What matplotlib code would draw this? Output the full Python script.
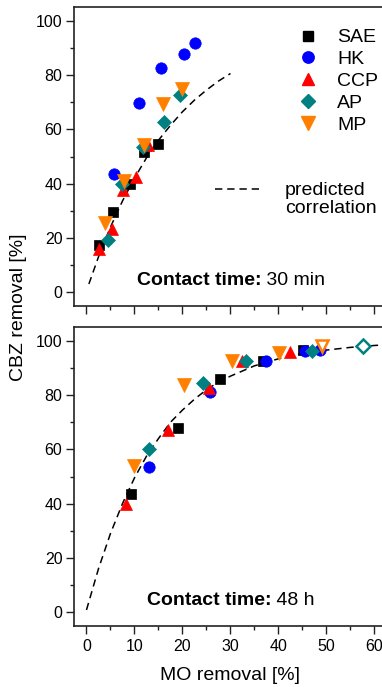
import matplotlib
matplotlib.use("Agg")
import matplotlib.pyplot as plt
from matplotlib.lines import Line2D
from matplotlib.ticker import MultipleLocator

plt.rcParams['font.family'] = ['Liberation Sans', 'DejaVu Sans']

# ---- data: MO removal [%] (x) vs CBZ removal [%] (y) ----
series = ["SAE", "HK", "CCP", "AP", "MP"]

# contact time 30 min
sae_30_x = [2.6, 5.6, 9.0, 12.0, 15.0]
sae_30_y = [17.2, 29.5, 39.9, 51.8, 54.5]
hk_30_x = [5.75, 11.0, 15.5, 20.3, 22.7]
hk_30_y = [43.7, 69.7, 82.5, 87.7, 91.9]
ccp_30_x = [2.6, 5.3, 7.6, 10.3, 12.8]
ccp_30_y = [16.0, 23.3, 37.5, 42.3, 54.3]
ap_30_x = [4.5, 7.5, 11.8, 16.1, 19.4]
ap_30_y = [19.3, 39.8, 53.4, 62.6, 72.5]
mp_30_x = [3.8, 7.8, 11.9, 16.0, 19.9]
mp_30_y = [25.5, 40.8, 54.3, 69.4, 74.8]

# contact time 48 h
sae_48_x = [9.2, 19.1, 27.9, 36.7, 45.2]
sae_48_y = [43.6, 67.7, 85.8, 92.6, 96.5]
hk_48_x = [13.0, 25.8, 37.4, 45.6, 48.6]
hk_48_y = [53.4, 81.2, 92.5, 96.4, 96.8]
ccp_48_x = [8.2, 17.0, 25.5, 32.3, 42.3]
ccp_48_y = [39.8, 67.3, 82.6, 92.6, 96.0]
ap_48_x = [13.0, 24.2, 33.2, 46.9]
ap_48_y = [60.1, 84.3, 92.5, 96.2]
mp_48_x = [9.85, 20.3, 30.4, 40.1]
mp_48_y = [54.0, 83.7, 92.6, 95.6]
# open symbols (48 h)
ap_open_x = [57.6]
ap_open_y = [98.2]
mp_open_x = [49.0]
mp_open_y = [98.2]

# predicted correlation curves
pred_30_x = [0.5, 2.5, 5, 7.5, 10, 12.5, 15, 17.5, 20, 22.5, 25, 27.5, 30]
pred_30_y = [3.0, 13.0, 24.0, 33.6, 42.0, 49.5, 56.0, 61.5, 66.5, 70.8, 74.5, 77.8, 80.6]
pred_48_x = [0, 2.5, 5, 7.5, 10, 12.5, 15, 17.5, 20, 22.5, 25, 27.5, 30,
             35, 40, 45, 50, 55, 60, 65]
pred_48_y = [0.8, 16.0, 29.0, 40.0, 49.5, 57.5, 64.0, 70.0, 74.5, 78.5, 82.0,
             84.8, 87.0, 90.8, 93.4, 95.3, 96.6, 97.6, 98.3, 98.8]

colors = {"SAE": "#000000", "HK": "#0000FF", "CCP": "#FF0000",
          "AP": "#008080", "MP": "#FF8000"}
markers = {"SAE": ("s", 6.6), "HK": ("o", 8.2), "CCP": ("^", 9.2),
           "AP": ("D", 7.5), "MP": ("v", 9.4)}

W, H = 382, 687
fig = plt.figure(figsize=(W / 100, H / 100), dpi=100)
left = 74 / W
width = 312 / W
ax1 = fig.add_axes([left, 1 - 305.7 / H, width, 298.4 / H])
ax2 = fig.add_axes([left, 1 - 625.7 / H, width, 298.4 / H])

dash = (0, (4.8, 3.2))


def style(ax, xlabels):
    ax.set_xlim(-2.6, 62.4)
    ax.set_ylim(-5, 105)
    ax.xaxis.set_major_locator(MultipleLocator(10))
    ax.xaxis.set_minor_locator(MultipleLocator(5))
    ax.yaxis.set_major_locator(MultipleLocator(20))
    ax.yaxis.set_minor_locator(MultipleLocator(10))
    ax.tick_params(which="major", direction="out", length=5.8, width=1.0,
                   labelsize=11.5, pad=2.5, color="#222222")
    ax.tick_params(which="minor", direction="out", length=3.0, width=1.0,
                   color="#222222")
    ax.tick_params(axis="x", which="major", pad=4)
    if not xlabels:
        ax.tick_params(axis="x", labelbottom=False)
    for s in ax.spines.values():
        s.set_linewidth(1.2)
        s.set_color("#222222")


def draw(ax, data, curve):
    ax.plot(curve[0], curve[1], color="black", lw=1.1, linestyle=dash, zorder=2)
    for name in series:
        xs, ys = data[name]
        m, ms = markers[name]
        ax.plot(xs, ys, linestyle="none", marker=m, ms=ms,
                color=colors[name], mec=colors[name], mew=0.5, zorder=3)


draw(ax1, {"SAE": (sae_30_x, sae_30_y), "HK": (hk_30_x, hk_30_y),
           "CCP": (ccp_30_x, ccp_30_y), "AP": (ap_30_x, ap_30_y),
           "MP": (mp_30_x, mp_30_y)}, (pred_30_x, pred_30_y))
draw(ax2, {"SAE": (sae_48_x, sae_48_y), "HK": (hk_48_x, hk_48_y),
           "CCP": (ccp_48_x, ccp_48_y), "AP": (ap_48_x, ap_48_y),
           "MP": (mp_48_x, mp_48_y)}, (pred_48_x, pred_48_y))
ax2.plot(ap_open_x, ap_open_y, linestyle="none", marker="D", ms=6.8,
         mfc="white", mec=colors["AP"], mew=1.8, zorder=4)
ax2.plot(mp_open_x, mp_open_y, linestyle="none", marker="v", ms=8.6,
         mfc="white", mec=colors["MP"], mew=1.8, zorder=4)

style(ax1, False)
style(ax2, True)

# marker legend
handles = [Line2D([], [], linestyle="none", marker=markers[n][0],
                  ms=markers[n][1], color=colors[n]) for n in series]
ax1.legend(handles, series, loc="upper left",
           bbox_to_anchor=(0.712, 0.928), frameon=False, fontsize=14,
           handlelength=1.2, handletextpad=0.9, labelspacing=0.22,
           borderpad=0, borderaxespad=0)

# key for the dashed prediction curve
key_y = (305.7 - 188.7) / 298.4
ax1.plot([(215 - 74) / 312, (259 - 74) / 312], [key_y, key_y],
         transform=ax1.transAxes, color="black", lw=1.1, linestyle=dash,
         clip_on=False)
ax1.text((285 - 74) / 312, key_y + 0.024, "predicted\ncorrelation",
         transform=ax1.transAxes, fontsize=14, ha="left", va="top",
         linespacing=1.1)

# contact time captions
cap1 = ax1.text((136.7 - 74) / 312, (305.7 - 285) / 298.4, "Contact time:",
                transform=ax1.transAxes, fontsize=14, fontweight="bold",
                va="baseline", ha="left")
ax1.annotate(" 30 min", xy=(1, 0), xycoords=cap1, va="bottom", ha="left",
             fontsize=14)
cap2 = ax2.text((146.7 - 74) / 312, (625.7 - 605) / 298.4, "Contact time:",
                transform=ax2.transAxes, fontsize=14, fontweight="bold",
                va="baseline", ha="left")
ax2.annotate(" 48 h", xy=(1, 0), xycoords=cap2, va="bottom", ha="left",
             fontsize=14)

fig.text(18.3 / W, 1 - 307.5 / H, "CBZ removal [%]", rotation=90,
         ha="center", va="center", fontsize=14)
fig.text(230 / W, 1 - 675 / H, "MO removal [%]", ha="center", va="center",
         fontsize=14)

fig.savefig("out.png", dpi=100)
